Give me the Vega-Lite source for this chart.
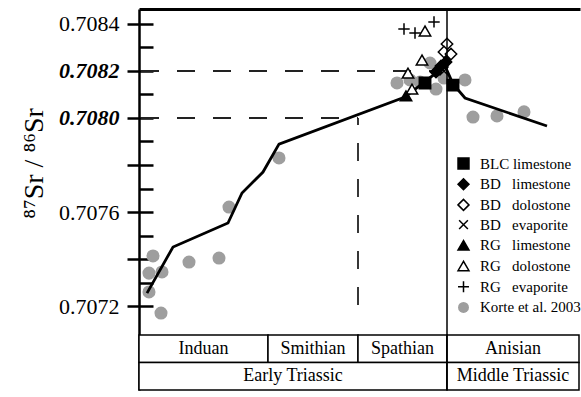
{
  "$schema": "https://vega.github.io/schema/vega-lite/v6.json",
  "width": 441,
  "height": 381,
  "autosize": "none",
  "padding": {"left": 139, "top": 9, "right": 1, "bottom": 7},
  "background": "white",
  "config": {
    "view": {"stroke": null},
    "font": "Liberation Serif",
    "legend": {
      "orient": "none",
      "legendX": 317,
      "legendY": 147,
      "padding": 0,
      "labelFont": "Liberation Serif",
      "labelFontSize": 15,
      "labelColor": "black",
      "symbolSize": 120,
      "symbolStrokeWidth": 1.5,
      "rowPadding": 3.7,
      "labelOffset": 9,
      "labelLimit": 200
    }
  },
  "layer": [
    {
      "data": {"values": [
        {"label": "Induan", "start": 0, "end": 129, "row": "stage"},
        {"label": "Smithian", "start": 129, "end": 219, "row": "stage"},
        {"label": "Spathian", "start": 219, "end": 308, "row": "stage"},
        {"label": "Anisian", "start": 308, "end": 440, "row": "stage"},
        {"label": "Early Triassic", "start": 0, "end": 308, "row": "epoch"},
        {"label": "Middle Triassic", "start": 308, "end": 440, "row": "epoch"}
      ]},
      "transform": [{"calculate": "(datum.start + datum.end) / 2", "as": "mid"}],
      "layer": [
        {
          "mark": {"type": "rect", "fill": "white", "stroke": "black", "strokeWidth": 1.5},
          "encoding": {
            "x": {"field": "start", "type": "quantitative", "scale": {"domain": [0, 441], "nice": false, "zero": false}, "axis": {"orient": "top", "title": null, "labels": false, "ticks": false, "grid": false, "domain": true, "domainColor": "black", "domainWidth": 3}},
            "x2": {"field": "end"},
            "y": {"field": "row", "type": "nominal", "scale": {"domain": ["stage", "epoch"], "range": [326, 381], "paddingInner": 0, "paddingOuter": 0}, "axis": null}
          }
        },
        {
          "mark": {"type": "text", "font": "Liberation Serif", "fontSize": 18, "color": "black", "align": "center", "baseline": "middle"},
          "encoding": {
            "x": {"field": "mid", "type": "quantitative", "scale": {"domain": [0, 441], "nice": false, "zero": false}, "axis": {"orient": "top", "title": null, "labels": false, "ticks": false, "grid": false, "domain": true, "domainColor": "black", "domainWidth": 3}},
            "y": {"field": "row", "type": "nominal", "scale": {"domain": ["stage", "epoch"], "range": [326, 381], "paddingInner": 0, "paddingOuter": 0}, "axis": null},
            "text": {"field": "label"}
          }
        }
      ]
    },
    {
      "layer": [
        {
          "data": {"values": [
            {"pos": 14, "sr": 0.707413, "group": "Korte et al. 2003"},
            {"pos": 10, "sr": 0.70734, "group": "Korte et al. 2003"},
            {"pos": 23, "sr": 0.707345, "group": "Korte et al. 2003"},
            {"pos": 10, "sr": 0.70726, "group": "Korte et al. 2003"},
            {"pos": 22, "sr": 0.70717, "group": "Korte et al. 2003"},
            {"pos": 50, "sr": 0.707387, "group": "Korte et al. 2003"},
            {"pos": 80, "sr": 0.707404, "group": "Korte et al. 2003"},
            {"pos": 90, "sr": 0.707621, "group": "Korte et al. 2003"},
            {"pos": 140, "sr": 0.70783, "group": "Korte et al. 2003"},
            {"pos": 258, "sr": 0.708149, "group": "Korte et al. 2003"},
            {"pos": 271, "sr": 0.708162, "group": "Korte et al. 2003"},
            {"pos": 281, "sr": 0.708153, "group": "Korte et al. 2003"},
            {"pos": 291, "sr": 0.708234, "group": "Korte et al. 2003"},
            {"pos": 297, "sr": 0.708123, "group": "Korte et al. 2003"},
            {"pos": 305, "sr": 0.70817, "group": "Korte et al. 2003"},
            {"pos": 326, "sr": 0.708162, "group": "Korte et al. 2003"},
            {"pos": 334, "sr": 0.708004, "group": "Korte et al. 2003"},
            {"pos": 358, "sr": 0.708009, "group": "Korte et al. 2003"},
            {"pos": 385, "sr": 0.708026, "group": "Korte et al. 2003"}
          ]},
          "mark": {"type": "point", "filled": true, "opacity": 1, "size": 170, "strokeWidth": 1.5},
          "encoding": {
            "x": {"field": "pos", "type": "quantitative", "scale": {"domain": [0, 441], "nice": false, "zero": false}, "axis": {"orient": "top", "title": null, "labels": false, "ticks": false, "grid": false, "domain": true, "domainColor": "black", "domainWidth": 3}},
            "y": {"field": "sr", "type": "quantitative", "scale": {"domain": [0.7068426, 0.7084638], "nice": false, "zero": false},
              "axis": {
                "orient": "left",
                "values": [0.7072, 0.7074, 0.7076, 0.7078, 0.708, 0.7082, 0.7084],
                "format": ".4f",
                "labelExpr": "datum.label == '0.7074' || datum.label == '0.7078' ? '' : datum.label",
                "tickSize": 12, "tickWidth": 2.5, "tickColor": "black",
                "domainColor": "black", "domainWidth": 2.5,
                "labelFont": "Liberation Serif", "labelFontSize": 22, "labelColor": "black",
                "labelFontWeight": {"condition": {"test": "datum.value > 0.70795 && datum.value < 0.70825", "value": "bold"}, "value": "normal"},
                "labelFontStyle": {"condition": {"test": "datum.value > 0.70795 && datum.value < 0.70825", "value": "italic"}, "value": "normal"},
                "labelPadding": 8,
                "grid": false,
                "title": "⁸⁷Sr / ⁸⁶Sr",
                "titleFont": "Liberation Serif", "titleFontSize": 28, "titleFontWeight": "normal", "titleColor": "black",
                "titleY": 154, "titlePadding": 10
              }
            },
            "shape": {"field": "group", "type": "nominal", "title": null,
              "scale": {"domain": ["BLC limestone", "BD limestone", "BD dolostone", "BD evaporite", "RG limestone", "RG dolostone", "RG evaporite", "Korte et al. 2003"],
                "range": ["square", "diamond", "diamond", "M-0.8,-0.8L0.8,0.8M-0.8,0.8L0.8,-0.8", "triangle-up", "triangle-up", "M-1,0L1,0M0,-1L0,1", "circle"]},
              "legend": {"labelExpr": "replace(replace(datum.label, 'BD ', 'BD\u00a0\u00a0\u00a0'), 'RG ', 'RG\u00a0\u00a0\u00a0')"}},
            "fill": {"field": "group", "type": "nominal", "title": null,
              "scale": {"domain": ["BLC limestone", "BD limestone", "BD dolostone", "BD evaporite", "RG limestone", "RG dolostone", "RG evaporite", "Korte et al. 2003"],
                "range": ["black", "black", "white", "transparent", "black", "white", "transparent", "#9e9e9e"]}},
            "stroke": {"field": "group", "type": "nominal", "title": null,
              "scale": {"domain": ["BLC limestone", "BD limestone", "BD dolostone", "BD evaporite", "RG limestone", "RG dolostone", "RG evaporite", "Korte et al. 2003"],
                "range": ["black", "black", "black", "black", "black", "black", "black", "transparent"]}}
          }
        },
        {
          "data": {"values": [
            {"x": 2, "x2": 300, "y": 0.7082, "y2": 0.7082},
            {"x": 2, "x2": 219, "y": 0.708, "y2": 0.708},
            {"x": 219, "x2": 219, "y": 0.707204, "y2": 0.708}
          ]},
          "mark": {"type": "rule", "color": "#222", "strokeWidth": 1.8, "strokeDash": [18, 18]},
          "encoding": {
            "x": {"field": "x", "type": "quantitative", "scale": {"domain": [0, 441], "nice": false, "zero": false}, "axis": {"orient": "top", "title": null, "labels": false, "ticks": false, "grid": false, "domain": true, "domainColor": "black", "domainWidth": 3}},
            "x2": {"field": "x2"},
            "y": {"field": "y", "type": "quantitative", "scale": {"domain": [0.7068426, 0.7084638], "nice": false, "zero": false}, "axis": null},
            "y2": {"field": "y2"}
          }
        },
        {
          "data": {"values": [
            {"pos": 8, "sr": 0.707255},
            {"pos": 34, "sr": 0.707451},
            {"pos": 89, "sr": 0.707553},
            {"pos": 103, "sr": 0.707681},
            {"pos": 124, "sr": 0.70777},
            {"pos": 140, "sr": 0.707889},
            {"pos": 266, "sr": 0.708089},
            {"pos": 306, "sr": 0.708221},
            {"pos": 314, "sr": 0.708145},
            {"pos": 326, "sr": 0.708085},
            {"pos": 408, "sr": 0.707966}
          ]},
          "mark": {"type": "line", "color": "black", "strokeWidth": 2.8},
          "encoding": {
            "x": {"field": "pos", "type": "quantitative", "scale": {"domain": [0, 441], "nice": false, "zero": false}, "axis": {"orient": "top", "title": null, "labels": false, "ticks": false, "grid": false, "domain": true, "domainColor": "black", "domainWidth": 3}},
            "y": {"field": "sr", "type": "quantitative", "scale": {"domain": [0.7068426, 0.7084638], "nice": false, "zero": false},
              "axis": {"orient": "left", "offset": -14, "values": [0.7072, 0.7073, 0.7074, 0.7075, 0.7076, 0.7077, 0.7078, 0.7079, 0.708, 0.7081, 0.7082, 0.7083, 0.7084],
                "tickSize": 14, "tickWidth": 2.5, "tickColor": "black", "domain": false, "labels": false, "grid": false, "title": null}}
          }
        },
        {
          "data": {"values": [
            {"pos": 269, "sr": 0.708191, "group": "RG dolostone"},
            {"pos": 273, "sr": 0.708123, "group": "RG dolostone"},
            {"pos": 283, "sr": 0.708247, "group": "RG dolostone"},
            {"pos": 286, "sr": 0.70837, "group": "RG dolostone"},
            {"pos": 265, "sr": 0.708379, "group": "RG evaporite"},
            {"pos": 276, "sr": 0.708362, "group": "RG evaporite"},
            {"pos": 295, "sr": 0.708409, "group": "RG evaporite"},
            {"pos": 267, "sr": 0.708094, "group": "RG limestone"},
            {"pos": 286, "sr": 0.708149, "group": "BLC limestone"},
            {"pos": 314, "sr": 0.70814, "group": "BLC limestone"},
            {"pos": 308, "sr": 0.708315, "group": "BD dolostone"},
            {"pos": 305, "sr": 0.708281, "group": "BD dolostone"},
            {"pos": 312, "sr": 0.708272, "group": "BD dolostone"},
            {"pos": 305, "sr": 0.7082, "group": "BD evaporite"},
            {"pos": 297, "sr": 0.708196, "group": "BD limestone"},
            {"pos": 302, "sr": 0.708221, "group": "BD limestone"},
            {"pos": 307, "sr": 0.708238, "group": "BD limestone"}
          ]},
          "mark": {"type": "point", "filled": true, "opacity": 1, "size": 130, "strokeWidth": 1.5},
          "encoding": {
            "x": {"field": "pos", "type": "quantitative", "scale": {"domain": [0, 441], "nice": false, "zero": false}, "axis": {"orient": "top", "title": null, "labels": false, "ticks": false, "grid": false, "domain": true, "domainColor": "black", "domainWidth": 3}},
            "y": {"field": "sr", "type": "quantitative", "scale": {"domain": [0.7068426, 0.7084638], "nice": false, "zero": false}, "axis": null},
            "shape": {"field": "group", "type": "nominal", "title": null,
              "scale": {"domain": ["BLC limestone", "BD limestone", "BD dolostone", "BD evaporite", "RG limestone", "RG dolostone", "RG evaporite", "Korte et al. 2003"],
                "range": ["square", "diamond", "diamond", "M-0.8,-0.8L0.8,0.8M-0.8,0.8L0.8,-0.8", "triangle-up", "triangle-up", "M-1,0L1,0M0,-1L0,1", "circle"]},
              "legend": {"labelExpr": "replace(replace(datum.label, 'BD ', 'BD\u00a0\u00a0\u00a0'), 'RG ', 'RG\u00a0\u00a0\u00a0')"}},
            "fill": {"field": "group", "type": "nominal", "title": null,
              "scale": {"domain": ["BLC limestone", "BD limestone", "BD dolostone", "BD evaporite", "RG limestone", "RG dolostone", "RG evaporite", "Korte et al. 2003"],
                "range": ["black", "black", "white", "transparent", "black", "white", "transparent", "#9e9e9e"]}},
            "stroke": {"field": "group", "type": "nominal", "title": null,
              "scale": {"domain": ["BLC limestone", "BD limestone", "BD dolostone", "BD evaporite", "RG limestone", "RG dolostone", "RG evaporite", "Korte et al. 2003"],
                "range": ["black", "black", "black", "black", "black", "black", "black", "transparent"]}}
          }
        },
        {
          "data": {"values": [{"boundary": 308}]},
          "mark": {"type": "rule", "color": "black", "strokeWidth": 1.5},
          "encoding": {
            "x": {"field": "boundary", "type": "quantitative", "scale": {"domain": [0, 441], "nice": false, "zero": false}, "axis": {"orient": "top", "title": null, "labels": false, "ticks": false, "grid": false, "domain": true, "domainColor": "black", "domainWidth": 3}}
          }
        }
      ],
      "resolve": {"axis": {"y": "independent"}}
    }
  ],
  "resolve": {"scale": {"y": "independent"}, "axis": {"y": "independent"}}
}
